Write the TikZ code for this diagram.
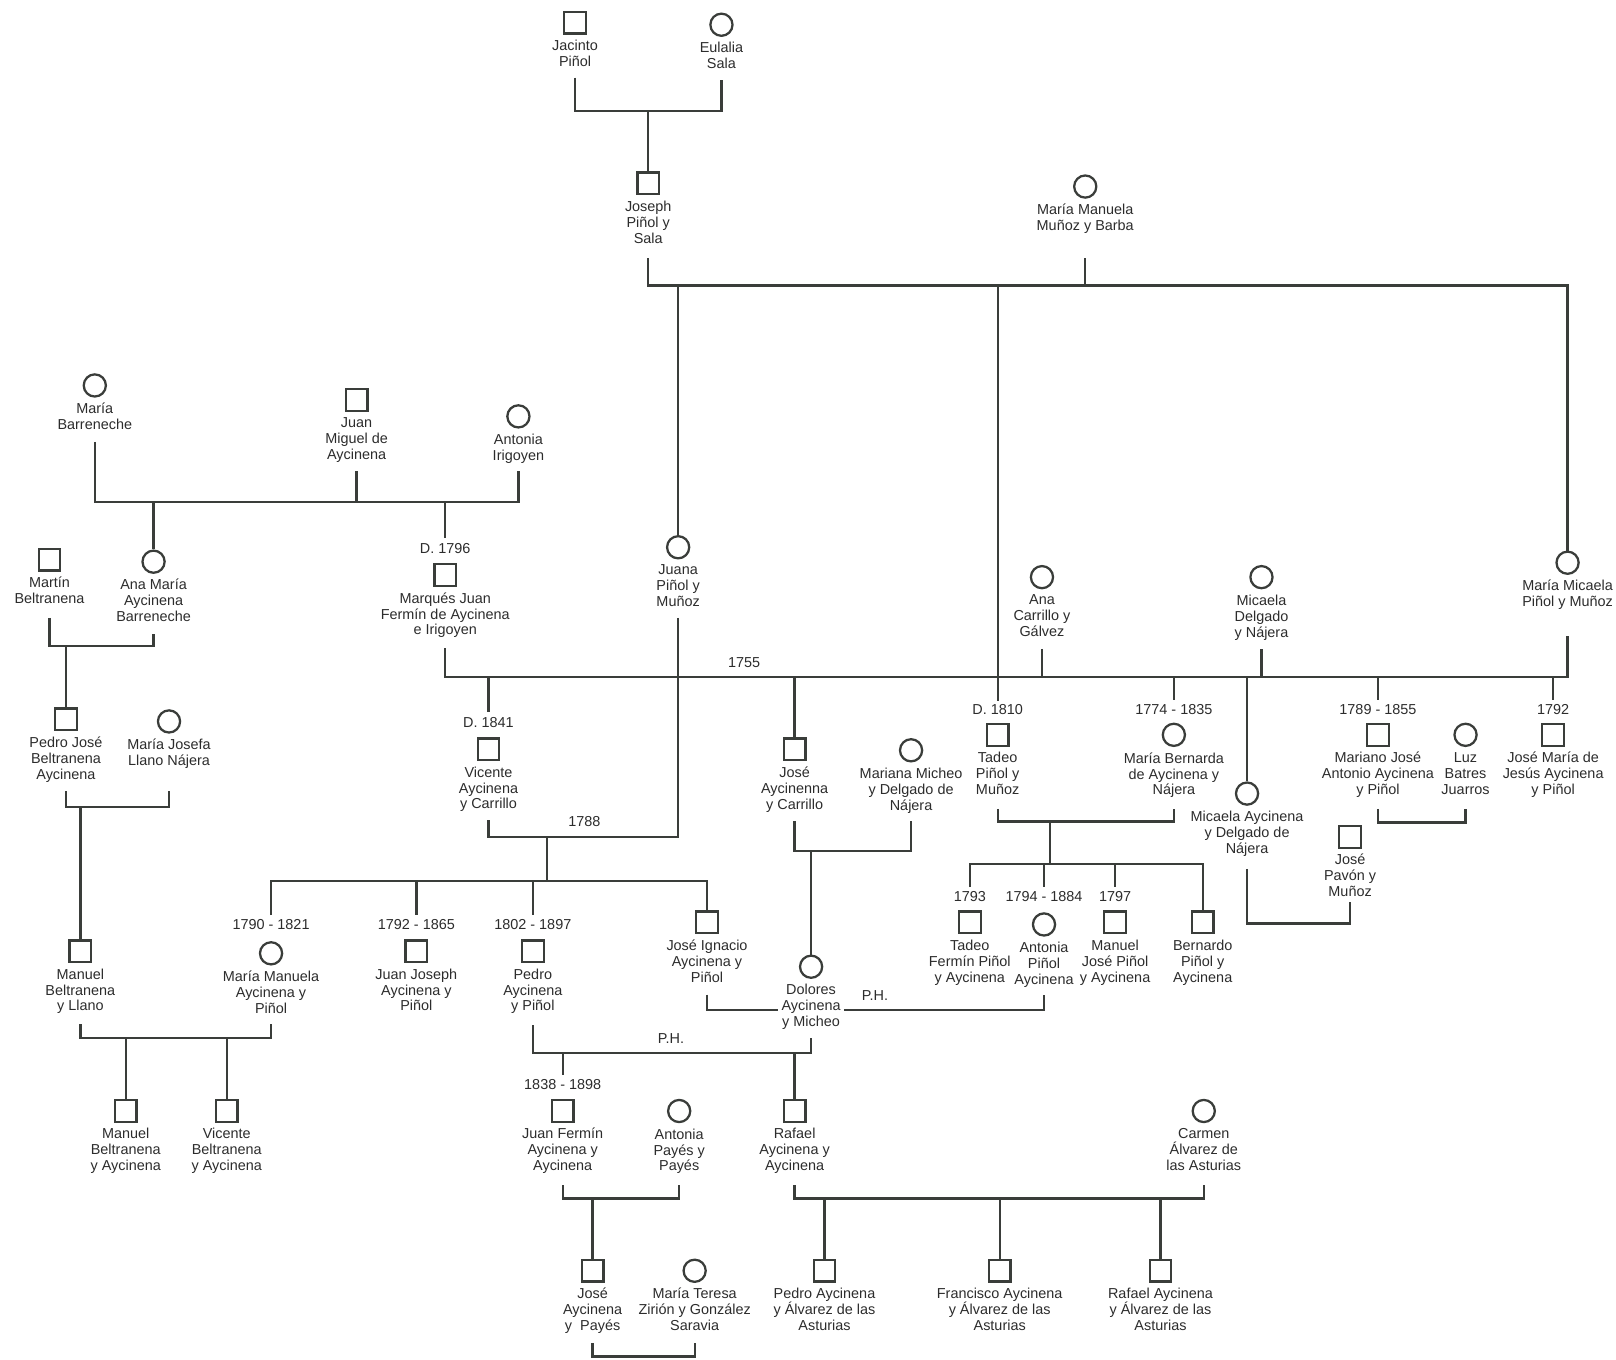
\documentclass[tikz,border=0pt]{standalone}
\usepackage{fontspec}
\setmainfont{Liberation Sans}
\usetikzlibrary{calc}
\definecolor{ink}{HTML}{3A3D3A}
\definecolor{txt}{HTML}{2C2C2C}
\newcommand{\lbfont}{\fontsize{14}{15.5}\selectfont}

\begin{document}
\begin{tikzpicture}[x=1pt,y=1pt,yscale=-1,xscale=1,
  male/.style={draw=ink,line width=2.2pt,rectangle,minimum size=21pt,inner sep=0pt},
  female/.style={draw=ink,line width=2.2pt,circle,minimum size=21.5pt,inner sep=0pt},
  lbl/.style={anchor=north,align=center,inner sep=0pt,text=txt,font=\lbfont,execute at begin node=\strut,execute at end node=\strut},
  yr/.style={inner sep=0pt,text=txt,font=\lbfont},
  ln/.style={draw=ink,line width=2.2pt}]
\useasboundingbox (0,0) rectangle (1568,1319);

%Shape: Square / Circle -- generation 1
\node[male] (jacinto) at (558,22) {};
\node[lbl] (jacinto-t) at ($(jacinto.south)+(0,5)$) {Jacinto\\Piñol};
\node[female] (eulalia) at (700,24) {};
\node[lbl] (eulalia-t) at ($(eulalia.south)+(0,5)$) {Eulalia\\Sala};
\node[male] (joseph) at (629,178) {};
\node[lbl] (joseph-t) at ($(joseph.south)+(0,5)$) {Joseph\\Piñol y\\Sala};
\node[female] (manuela) at (1053,181) {};
\node[lbl] (manuela-t) at ($(manuela.south)+(0,5)$) {María Manuela\\Muñoz y Barba};

\node[female] (barreneche) at (92,374) {};
\node[lbl] (barreneche-t) at ($(barreneche.south)+(0,5)$) {María\\Barreneche};
\node[male] (juanmiguel) at (346,388) {};
\node[lbl] (juanmiguel-t) at ($(juanmiguel.south)+(0,5)$) {Juan\\Miguel de\\Aycinena};
\node[female] (irigoyen) at (503,404) {};
\node[lbl] (irigoyen-t) at ($(irigoyen.south)+(0,5)$) {Antonia\\Irigoyen};

%Shape: Square / Circle -- generation 2
\node[male] (martin) at (48,543) {};
\node[lbl] (martin-t) at ($(martin.south)+(0,5)$) {Martín\\Beltranena};
\node[female] (anamaria) at (149,545) {};
\node[lbl] (anamaria-t) at ($(anamaria.south)+(0,5)$) {Ana María\\Aycinena\\Barreneche};
\node[yr] (fermin-d) at (432,532) {D. 1796};
\node[male] (fermin) at (432,558) {};
\node[lbl] (fermin-t) at ($(fermin.south)+(0,5)$) {Marqués Juan\\Fermín de Aycinena\\e Irigoyen};
\node[female] (juana) at (658,531) {};
\node[lbl] (juana-t) at ($(juana.south)+(0,5)$) {Juana\\Piñol y\\Muñoz};
\node[female] (carrillo) at (1011,560) {};
\node[lbl] (carrillo-t) at ($(carrillo.south)+(0,5)$) {Ana\\Carrillo y\\Gálvez};
\node[female] (delgado) at (1224,560) {};
\node[lbl] (delgado-t) at ($(delgado.south)+(0,5)$) {Micaela\\Delgado\\y Nájera};
\node[female] (mmicaela) at (1521,546) {};
\node[lbl] (mmicaela-t) at ($(mmicaela.south)+(0,5)$) {María Micaela\\Piñol y Muñoz};

%Shape: Square / Circle -- generation 3
\node[male] (pedrojose) at (64,698) {};
\node[lbl] (pedrojose-t) at ($(pedrojose.south)+(0,5)$) {Pedro José\\Beltranena\\Aycinena};
\node[female] (llano) at (164,700) {};
\node[lbl] (llano-t) at ($(llano.south)+(0,5)$) {María Josefa\\Llano Nájera};
\node[yr] (vicente-d) at (474,701) {D. 1841};
\node[male] (vicente) at (474,727) {};
\node[lbl] (vicente-t) at ($(vicente.south)+(0,5)$) {Vicente\\Aycinena\\y Carrillo};
\node[male] (jose) at (771,727) {};
\node[lbl] (jose-t) at ($(jose.south)+(0,5)$) {José\\Aycinenna\\y Carrillo};
\node[female] (micheo) at (884,728) {};
\node[lbl] (micheo-t) at ($(micheo.south)+(0,5)$) {Mariana Micheo\\y Delgado de\\Nájera};
\node[yr] (tadeo-d) at (968,688) {D. 1810};
\node[male] (tadeo) at (968,713) {};
\node[lbl] (tadeo-t) at ($(tadeo.south)+(0,5)$) {Tadeo\\Piñol y\\Muñoz};
\node[yr] (bernarda-d) at (1139,688) {1774 - 1835};
\node[female] (bernarda) at (1139,713) {};
\node[lbl] (bernarda-t) at ($(bernarda.south)+(0,5)$) {María Bernarda\\de Aycinena y\\Nájera};
\node[female] (micaelaA) at (1210,770) {};
\node[lbl] (micaelaA-t) at ($(micaelaA.south)+(0,5)$) {Micaela Aycinena\\y Delgado de\\Nájera};
\node[male] (pavon) at (1310,812) {};
\node[lbl] (pavon-t) at ($(pavon.south)+(0,5)$) {José\\Pavón y\\Muñoz};
\node[yr] (mariano-d) at (1337,688) {1789 - 1855};
\node[male] (mariano) at (1337,713) {};
\node[lbl] (mariano-t) at ($(mariano.south)+(0,5)$) {Mariano José\\Antonio Aycinena\\y Piñol};
\node[female] (luz) at (1422,713) {};
\node[lbl] (luz-t) at ($(luz.south)+(0,5)$) {Luz\\Batres\\Juarros};
\node[yr] (josemaria-d) at (1507,688) {1792};
\node[male] (josemaria) at (1507,713) {};
\node[lbl] (josemaria-t) at ($(josemaria.south)+(0,5)$) {José María de\\Jesús Aycinena\\y Piñol};

%Shape: Square / Circle -- generation 4
\node[male] (manuel) at (78,923) {};
\node[lbl] (manuel-t) at ($(manuel.south)+(0,5)$) {Manuel\\Beltranena\\y Llano};
\node[yr] (mmanuela-d) at (263,897) {1790 - 1821};
\node[female] (mmanuela) at (263,925) {};
\node[lbl] (mmanuela-t) at ($(mmanuela.south)+(0,5)$) {María Manuela\\Aycinena y\\Piñol};
\node[yr] (juanjoseph-d) at (404,897) {1792 - 1865};
\node[male] (juanjoseph) at (404,923) {};
\node[lbl] (juanjoseph-t) at ($(juanjoseph.south)+(0,5)$) {Juan Joseph\\Aycinena y\\Piñol};
\node[yr] (pedro-d) at (517,897) {1802 - 1897};
\node[male] (pedro) at (517,923) {};
\node[lbl] (pedro-t) at ($(pedro.south)+(0,5)$) {Pedro\\Aycinena\\y Piñol};
\node[male] (ignacio) at (686,895) {};
\node[lbl] (ignacio-t) at ($(ignacio.south)+(0,5)$) {José Ignacio\\Aycinena y\\Piñol};
\node[female] (dolores) at (787,938) {};
\node[lbl] (dolores-t) at ($(dolores.south)+(0,5)$) {Dolores\\Aycinena\\y Micheo};
\node[yr] (tadeof-d) at (941,870) {1793};
\node[male] (tadeof) at (941,895) {};
\node[lbl] (tadeof-t) at ($(tadeof.south)+(0,5)$) {Tadeo\\Fermín Piñol\\y Aycinena};
\node[yr] (antonia-d) at (1013,870) {1794 - 1884};
\node[female] (antonia) at (1013,897) {};
\node[lbl] (antonia-t) at ($(antonia.south)+(0,5)$) {Antonia\\Piñol\\Aycinena};
\node[yr] (manueljose-d) at (1082,870) {1797};
\node[male] (manueljose) at (1082,895) {};
\node[lbl] (manueljose-t) at ($(manueljose.south)+(0,5)$) {Manuel\\José Piñol\\y Aycinena};
\node[male] (bernardo) at (1167,895) {};
\node[lbl] (bernardo-t) at ($(bernardo.south)+(0,5)$) {Bernardo\\Piñol y\\Aycinena};

%Shape: Square / Circle -- generation 5
\node[male] (manuelba) at (122,1078) {};
\node[lbl] (manuelba-t) at ($(manuelba.south)+(0,5)$) {Manuel\\Beltranena\\y Aycinena};
\node[male] (vicenteba) at (220,1078) {};
\node[lbl] (vicenteba-t) at ($(vicenteba.south)+(0,5)$) {Vicente\\Beltranena\\y Aycinena};
\node[yr] (juanfermin-d) at (546,1052) {1838 - 1898};
\node[male] (juanfermin) at (546,1078) {};
\node[lbl] (juanfermin-t) at ($(juanfermin.south)+(0,5)$) {Juan Fermín\\Aycinena y\\Aycinena};
\node[female] (payes) at (659,1078) {};
\node[lbl] (payes-t) at ($(payes.south)+(0,5)$) {Antonia\\Payés y\\Payés};
\node[male] (rafael) at (771,1078) {};
\node[lbl] (rafael-t) at ($(rafael.south)+(0,5)$) {Rafael\\Aycinena y\\Aycinena};
\node[female] (carmen) at (1168,1078) {};
\node[lbl] (carmen-t) at ($(carmen.south)+(0,5)$) {Carmen\\Álvarez de\\las Asturias};

%Shape: Square / Circle -- generation 6
\node[male] (josepayes) at (575,1233) {};
\node[lbl] (josepayes-t) at ($(josepayes.south)+(0,5)$) {José\\Aycinena\\y~ Payés};
\node[female] (zirion) at (674,1233) {};
\node[lbl] (zirion-t) at ($(zirion.south)+(0,5)$) {María Teresa\\Zirión y González\\Saravia};
\node[male] (pedroal) at (800,1233) {};
\node[lbl] (pedroal-t) at ($(pedroal.south)+(0,5)$) {Pedro Aycinena\\y Álvarez de las\\Asturias};
\node[male] (francisco) at (970,1233) {};
\node[lbl] (francisco-t) at ($(francisco.south)+(0,5)$) {Francisco Aycinena\\y Álvarez de las\\Asturias};
\node[male] (rafaelal) at (1126,1233) {};
\node[lbl] (rafaelal-t) at ($(rafaelal.south)+(0,5)$) {Rafael Aycinena\\y Álvarez de las\\Asturias};

% Text Node
\node[yr] (y1755) at (722,643) {1755};
\node[yr] (y1788) at (567,797) {1788};
\node[yr] (ph-a) at (849,966) {P.H.};
\node[yr] (ph-b) at (651,1008) {P.H.};

%Straight Lines -- Piñol
\coordinate (pinol) at (629,108);
\draw[ln] ($(jacinto-t.south)+(0,6)$) |- (pinol) -| ($(eulalia-t.south)+(0,6)$);
\draw[ln] (pinol) -- (joseph);
\coordinate (pm) at (1053,277);
\draw[ln] ($(joseph-t.south)+(0,10)$) |- (pm) -| (mmicaela);
\draw[ln] ($(manuela-t.south |- joseph-t.south)+(0,10)$) -- (pm);
\draw[ln] (juana |- pm) -- (juana);
\draw[ln] (tadeo |- pm) -- ($(tadeo-d.north)+(0,-3)$);

%Straight Lines -- Aycinena
\coordinate (ayc) at (346,487);
\draw[ln] ($(barreneche-t.south)+(0,7)$) |- (ayc) -| ($(irigoyen-t.south)+(0,5)$);
\draw[ln] ($(juanmiguel-t.south)+(0,7)$) -- (ayc);
\draw[ln] (anamaria |- ayc) -- (anamaria);
\draw[ln] (fermin-d |- ayc) -- ($(fermin-d.north)+(0,-5)$);

%Straight Lines -- Beltranena
\coordinate (bel1) at (64,627);
\draw[ln] ($(martin-t.south)+(0,9)$) |- (bel1) -| ($(anamaria-t.south)+(0,7)$);
\draw[ln] (bel1) -- (pedrojose);
\coordinate (bel2) at (78,783);
\draw[ln] ($(pedrojose-t.south)+(0,7)$) |- (bel2) -| ($(llano-t.south |- pedrojose-t.south)+(0,7)$);
\draw[ln] (bel2) -- (manuel);
\coordinate (bel3) at (122,1007);
\draw[ln] ($(manuel-t.south)+(0,8)$) |- (bel3) -| ($(mmanuela-t.south |- manuel-t.south)+(0,8)$);
\draw[ln] (bel3) -- (manuelba);
\draw[ln] (vicenteba |- bel3) -- (vicenteba);

%Straight Lines -- 1755
\coordinate (m1755) at (771,657);
\draw[ln] ($(fermin-t.south)+(0,8)$) |- (m1755) -| ($(mmicaela-t.south)+(0,23)$);
\draw[ln] ($(carrillo-t.south)+(0,7)$) -- (carrillo |- m1755);
\draw[ln] ($(delgado-t.south)+(0,7)$) -- (delgado |- m1755);
\draw[ln] (m1755) -- (jose);
\draw[ln] (vicente-d |- m1755) -- ($(vicente-d.north)+(0,-5)$);
\draw[ln] (bernarda-d |- m1755) -- ($(bernarda-d.north)+(0,-4)$);
\draw[ln] (micaelaA |- m1755) -- (micaelaA);
\draw[ln] (mariano-d |- m1755) -- ($(mariano-d.north)+(0,-4)$);
\draw[ln] (josemaria-d |- m1755) -- ($(josemaria-d.north)+(0,-4)$);

%Straight Lines -- 1788
\coordinate (m1788) at (531,812);
\draw[ln] ($(juana-t.south)+(0,6)$) |- (m1788) -| ($(vicente-t.south)+(0,6)$);
\coordinate (k1788) at (531,855);
\draw[ln] (m1788) -- (k1788);
\draw[ln] ($(mmanuela-d.north)+(0,-4)$) |- (k1788) -| (ignacio);
\draw[ln] (juanjoseph-d |- k1788) -- ($(juanjoseph-d.north)+(0,-4)$);
\draw[ln] (pedro-d |- k1788) -- ($(pedro-d.north)+(0,-4)$);

%Straight Lines -- Micheo
\coordinate (mich) at (787,826);
\draw[ln] ($(jose-t.south)+(0,7)$) |- (mich) -| ($(micheo-t.south)+(0,6)$);
\draw[ln] (mich) -- (dolores);
\coordinate (ph1) at (787,980);
\draw[ln] ($(ignacio-t.south)+(0,7)$) |- ($(ph1 -| dolores-t.west)+(-3,0)$);
\draw[ln] ($(ph1 -| dolores-t.east)+(3,0)$) -| ($(antonia-t.south)+(0,5)$);
\coordinate (ph2) at (771,1022);
\draw[ln] ($(pedro-t.south)+(0,9)$) |- (ph2) -| ($(dolores-t.south)+(0,6)$);
\draw[ln] (ph2) -- (rafael);
\draw[ln] (juanfermin-d |- ph2) -- ($(juanfermin-d.north)+(0,-4)$);

%Straight Lines -- Payés, Álvarez
\coordinate (pay) at (575,1163);
\draw[ln] ($(juanfermin-t.south)+(0,9)$) |- (pay) -| ($(payes-t.south)+(0,9)$);
\draw[ln] (pay) -- (josepayes);
\draw[ln] ($(josepayes-t.south)+(0,7)$) |- ($(zirion-t.south)+(0,20)$) -- ($(zirion-t.south)+(0,7)$);
\coordinate (alv) at (970,1163);
\draw[ln] ($(rafael-t.south)+(0,9)$) |- (alv) -| ($(carmen-t.south)+(0,9)$);
\draw[ln] (alv) -- (francisco);
\draw[ln] (pedroal |- alv) -- (pedroal);
\draw[ln] (rafaelal |- alv) -- (rafaelal);

%Straight Lines -- Tadeo, Micaela, Mariano
\coordinate (tb) at (1019,797);
\draw[ln] ($(tadeo-t.south)+(0,9)$) |- (tb) -| ($(bernarda-t.south)+(0,9)$);
\coordinate (tbk) at (1019,838);
\draw[ln] (tb) -- (tbk);
\draw[ln] ($(tadeof-d.north)+(0,-4)$) |- (tbk) -| (bernardo);
\draw[ln] (antonia-d |- tbk) -- ($(antonia-d.north)+(0,-4)$);
\draw[ln] (manueljose-d |- tbk) -- ($(manueljose-d.north)+(0,-4)$);
\coordinate (mp) at (1260,896);
\draw[ln] ($(micaelaA-t.south)+(0,10)$) |- (mp) -| ($(pavon-t.south)+(0,0)$);
\coordinate (ml) at (1380,798);
\draw[ln] ($(mariano-t.south)+(0,9)$) |- (ml) -| ($(luz-t.south)+(0,9)$);
\end{tikzpicture}
\end{document}
